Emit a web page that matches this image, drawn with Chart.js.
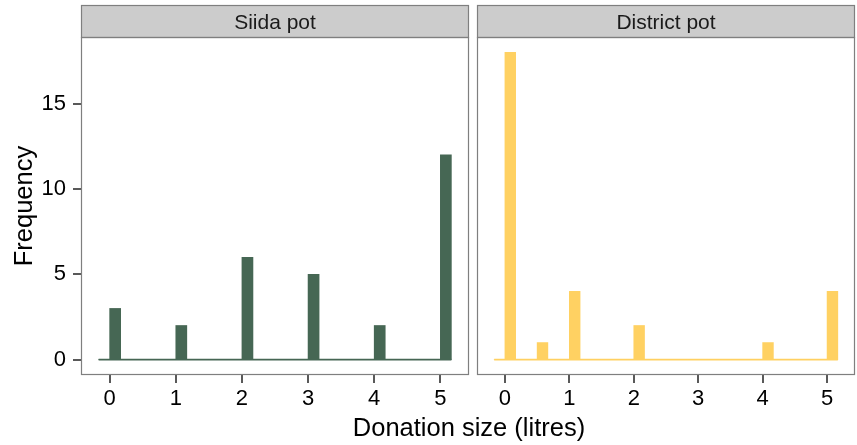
<!DOCTYPE html>
<html>
<head>
<meta charset="utf-8">
<script src="https://cdn.jsdelivr.net/npm/chart.js@4.4.1/dist/chart.umd.min.js"></script>
<style>
  html, body { margin: 0; padding: 0; background: #fff; }
  #wrap { position: relative; width: 857px; height: 445px; overflow: hidden;
          font-family: "Liberation Sans", Arial, Helvetica, sans-serif; }
  canvas { position: absolute; top: 0; }
  #xtitle { position: absolute; left: 219px; width: 500px; top: 412px;
            text-align: center; font-size: 25.5px; line-height: 30px; color: #000; }
</style>
</head>
<body>
<div id="wrap">
  <canvas id="siida" width="470" height="445" style="left:0px"></canvas>
  <canvas id="district" width="387" height="445" style="left:470px"></canvas>
  <div id="xtitle">Donation size (litres)</div>
</div>
<script>
// Donation sizes (litres) that occurred, and how often, per pot
const siidaSizes = [0, 1, 2, 3, 4, 5];
const siidaCounts = [3, 2, 6, 5, 2, 12];
const districtSizes = [0, 0.5, 1, 2, 4, 5];
const districtCounts = [18, 1, 4, 2, 1, 4];

const panelTitles = ['Siida pot', 'District pot'];
const xTickValues = [0, 1, 2, 3, 4, 5];
const yTickValues = [0, 5, 10, 15];

// histogram bins are 1/6 litre wide, from -1/6 up to 5 + 1/6
const BIN_STEPS = 6;
const FIRST_BIN = -1;
const LAST_BIN = 30;

const FONT = '"Liberation Sans", Arial, Helvetica, sans-serif';

function buildBins(sizes, counts) {
  const bins = [];
  for (let k = FIRST_BIN; k <= LAST_BIN; k++) {
    const idx = sizes.findIndex(s => Math.round(s * BIN_STEPS) === k);
    bins.push({ x: (k + 0.5) / BIN_STEPS, y: idx >= 0 ? counts[idx] : 0 });
  }
  return bins;
}

function baseline() {
  return [{ x: FIRST_BIN / BIN_STEPS, y: 0 }, { x: (LAST_BIN + 1) / BIN_STEPS, y: 0 }];
}

// grey strip above the panel plus the panel frame
const facetFrame = {
  id: 'facetFrame',
  afterDraw(chart, args, opts) {
    const { ctx, chartArea: a } = chart;
    ctx.save();
    ctx.fillStyle = '#cccccc';
    ctx.fillRect(a.left, 5, a.right - a.left, a.top - 5);
    ctx.strokeStyle = '#7f7f7f';
    ctx.lineWidth = 1.2;
    ctx.strokeRect(a.left + 0.5, 5.5, a.right - a.left - 1, a.top - 5);
    ctx.strokeRect(a.left + 0.5, a.top + 0.5, a.right - a.left - 1, a.bottom - a.top - 1);
    ctx.fillStyle = '#1a1a1a';
    ctx.font = '21px ' + FONT;
    ctx.textAlign = 'center';
    ctx.textBaseline = 'alphabetic';
    ctx.fillText(opts.title, (a.left + a.right) / 2, 29);
    ctx.restore();
  }
};

function makeChart(id, sizes, counts, color, title, showY, padding) {
  const tickGrid = {
    display: true, drawOnChartArea: false, drawTicks: true, offset: false,
    tickLength: 8, tickWidth: 1.5, tickColor: '#222', lineWidth: 0
  };
  return new Chart(document.getElementById(id), {
    type: 'bar',
    data: {
      datasets: [
        {
          type: 'bar', data: buildBins(sizes, counts), backgroundColor: color,
          borderWidth: 0, barPercentage: 1, categoryPercentage: 1, order: 1
        },
        {
          type: 'line', data: baseline(), borderColor: color, borderWidth: 1.7,
          pointRadius: 0, fill: false, order: 2
        }
      ]
    },
    options: {
      responsive: false, animation: false, devicePixelRatio: 1,
      layout: { padding: padding },
      plugins: { legend: { display: false }, tooltip: { enabled: false }, facetFrame: { title: title } },
      scales: {
        x: {
          type: 'linear', min: -0.4333, max: 5.4333, offset: false,
          afterBuildTicks: s => { s.ticks = xTickValues.map(v => ({ value: v })); },
          afterFit: s => { s.height = 70; },
          grid: tickGrid, border: { display: false },
          ticks: { color: '#000', padding: 3, font: { family: FONT, size: 22 } }
        },
        y: {
          display: showY, min: -0.9, max: 18.9,
          afterBuildTicks: s => { s.ticks = yTickValues.map(v => ({ value: v })); },
          afterFit: s => { s.width = showY ? 81 : 0; },
          grid: tickGrid, border: { display: false },
          ticks: { color: '#000', padding: 7, font: { family: FONT, size: 22 } },
          title: { display: true, text: 'Frequency', color: '#000',
                   font: { family: FONT, size: 25.5 }, padding: { top: 10, bottom: 0 } }
        }
      }
    },
    plugins: [facetFrame]
  });
}

makeChart('siida', siidaSizes, siidaCounts, '#466754', panelTitles[0], true,
          { left: 0, right: 1, top: 37, bottom: 0 });
makeChart('district', districtSizes, districtCounts, '#ffd162', panelTitles[1], false,
          { left: 7, right: 2, top: 37, bottom: 0 });
</script>
</body>
</html>
